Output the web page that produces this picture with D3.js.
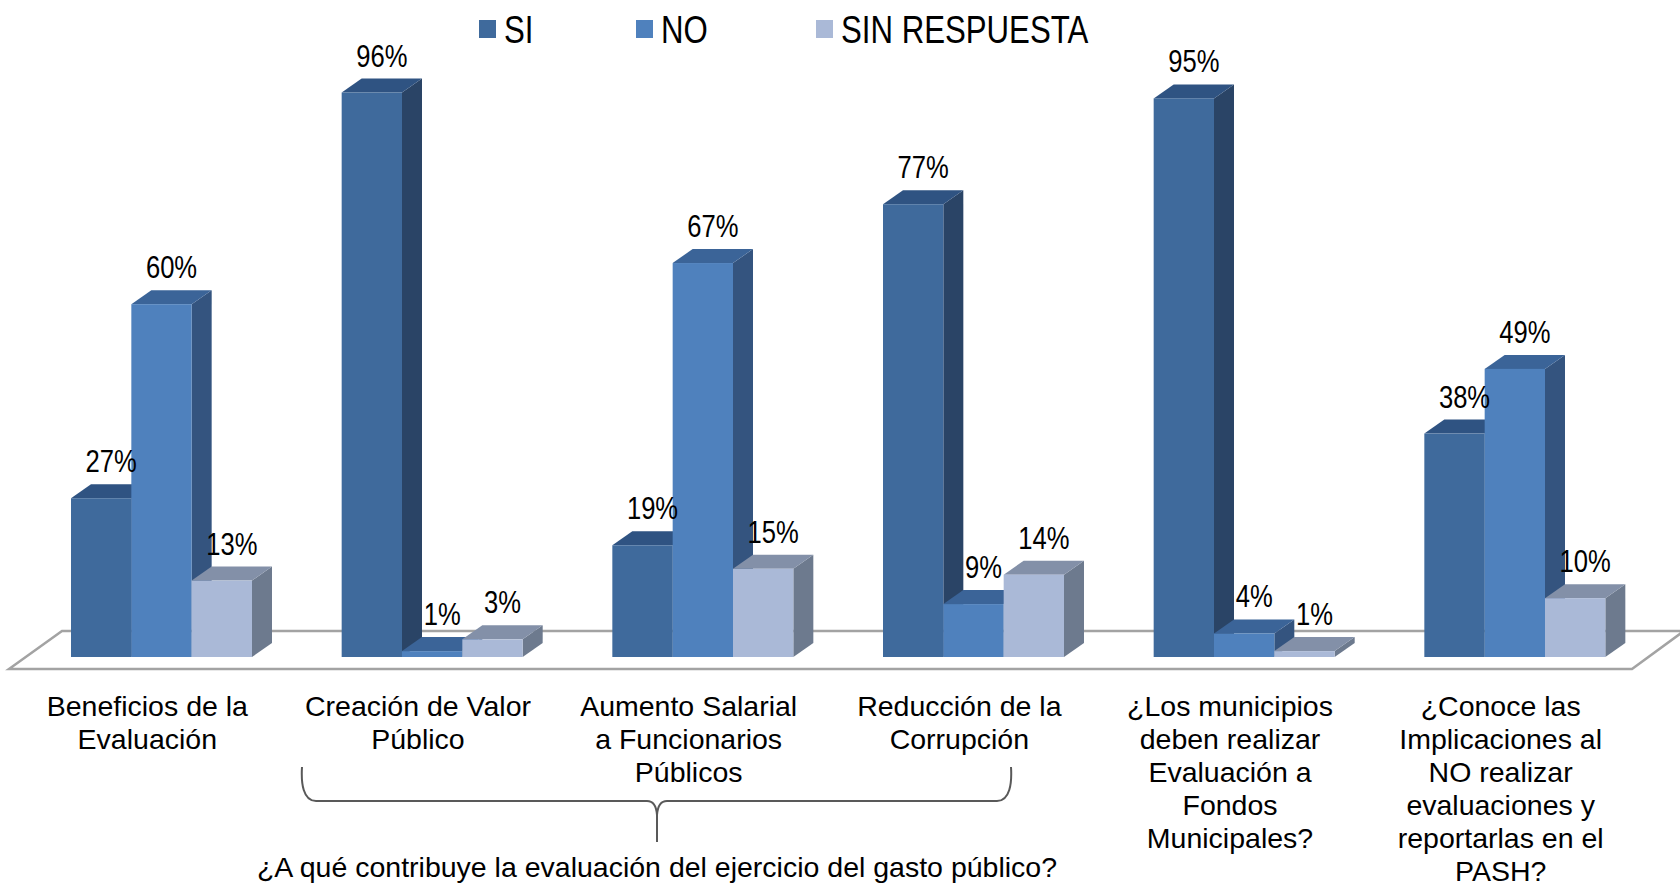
<!DOCTYPE html>
<html>
<head>
<meta charset="utf-8">
<script src="https://cdn.jsdelivr.net/npm/d3@7"></script>
<style>
  body { margin: 0; background: #fff; }
  svg { display: block; }
</style>
</head>
<body>
<div class="chart"></div>
<script>
var svgWidth = 1680;
var svgHeight = 887;

// Data
var categories = [
    ["Beneficios de la", "Evaluación"],
    ["Creación de Valor", "Público"],
    ["Aumento Salarial", "a Funcionarios", "Públicos"],
    ["Reducción de la", "Corrupción"],
    ["¿Los municipios", "deben realizar", "Evaluación a", "Fondos", "Municipales?"],
    ["¿Conoce las", "Implicaciones al", "NO realizar", "evaluaciones y", "reportarlas en el", "PASH?"]
];
var seriesNames = ["SI", "NO", "SIN RESPUESTA"];
var siValues = [27, 96, 19, 77, 95, 38];
var noValues = [60, 1, 67, 9, 4, 49];
var srValues = [13, 3, 15, 14, 1, 10];
var groupTitle = "¿A qué contribuye la evaluación del ejercicio del gasto público?";

var values = [siValues, noValues, srValues];

// colours: front, top, side
var colors = [
    {front: "#3f6a9c", top: "#2f5382", side: "#2a4466"},
    {front: "#4f81bd", top: "#3b6498", side: "#34547f"},
    {front: "#aab9d7", top: "#8390a8", side: "#6d7a8e"}
];

var depthX = 20, depthY = 14;
var narrowFont = "'Liberation Sans', Arial, sans-serif";

var svg = d3.select(".chart")
    .append("svg")
    .attr("width", svgWidth)
    .attr("height", svgHeight);

// Scales
var xCat = d3.scaleBand()
    .domain(d3.range(categories.length))
    .range([12, 1636]);

var xSeries = d3.scaleBand()
    .domain(d3.range(seriesNames.length))
    .range([59, 240]);

var yScale = d3.scaleLinear()
    .domain([0, 100])
    .range([657, 69]);

// Floor
var floorFront = 669, floorBack = 631;
svg.append("path")
    .attr("d", `M9,${floorFront} L62,${floorBack} L1684,${floorBack} L1632,${floorFront} Z`)
    .attr("fill", "#fff")
    .attr("stroke", "#a3a3a3")
    .attr("stroke-width", 2.5);

// Bars
var barsGroup = svg.append("g");
categories.forEach(function(cat, i) {
    values.forEach(function(vals, j) {
        var x0 = xCat(i) + xSeries(j);
        var w = xSeries.bandwidth();
        var y0 = yScale(0);
        var y1 = yScale(vals[i]);
        var c = colors[j];
        var g = barsGroup.append("g");
        // side
        g.append("path")
            .attr("d", `M${x0 + w},${y0} L${x0 + w + depthX},${y0 - depthY} L${x0 + w + depthX},${y1 - depthY} L${x0 + w},${y1} Z`)
            .attr("fill", c.side);
        // top
        g.append("path")
            .attr("d", `M${x0},${y1} L${x0 + depthX},${y1 - depthY} L${x0 + w + depthX},${y1 - depthY} L${x0 + w},${y1} Z`)
            .attr("fill", c.top);
        // front
        g.append("rect")
            .attr("x", x0)
            .attr("y", y1)
            .attr("width", w)
            .attr("height", y0 - y1)
            .attr("fill", c.front);
    });
});

// Value labels (condensed look by squeezing horizontally)
categories.forEach(function(cat, i) {
    values.forEach(function(vals, j) {
        var x0 = xCat(i) + xSeries(j);
        var lx = x0 + xSeries.bandwidth() / 2 + depthX / 2;
        var ly = yScale(vals[i]) - depthY - 12;
        svg.append("text")
            .attr("transform", `translate(${lx},${ly}) scale(0.8,1)`)
            .attr("text-anchor", "middle")
            .style("font-family", narrowFont)
            .style("font-size", "32px")
            .attr("fill", "#000")
            .text(vals[i] + "%");
    });
});

// Category labels
categories.forEach(function(cat, i) {
    var t = svg.append("text")
        .attr("text-anchor", "middle")
        .style("font-family", "'Liberation Sans', Arial, sans-serif")
        .style("font-size", "28.5px")
        .attr("fill", "#000");
    cat.forEach(function(line, k) {
        t.append("tspan")
            .attr("x", xCat(i) + xCat.bandwidth() / 2)
            .attr("y", 716 + k * 33)
            .text(line);
    });
});

// Brace for the first four categories
var bl = 302, br = 1011, bm = (bl + br) / 2 + 0.5, bTop = 767, bMid = 801, bTip = 842;
svg.append("path")
    .attr("d", `M${bl},${bTop} C${bl - 1},${bMid - 18} ${bl + 1},${bMid} ${bl + 14},${bMid}
                L${bm - 10},${bMid} Q${bm - 1},${bMid} ${bm},${bMid + 14} L${bm},${bTip}
                M${bm},${bMid + 14} Q${bm + 1},${bMid} ${bm + 10},${bMid}
                L${br - 14},${bMid} C${br - 1},${bMid} ${br + 1},${bMid - 18} ${br},${bTop}`)
    .attr("fill", "none")
    .attr("stroke", "#595959")
    .attr("stroke-width", 2);

svg.append("text")
    .attr("x", bm)
    .attr("y", 877)
    .attr("text-anchor", "middle")
    .style("font-family", "'Liberation Sans', Arial, sans-serif")
    .style("font-size", "28.5px")
    .attr("fill", "#000")
    .text(groupTitle);

// Legend
var legendX = [479, 636, 816];
var legend = svg.append("g");
seriesNames.forEach(function(name, j) {
    legend.append("rect")
        .attr("x", legendX[j])
        .attr("y", 20)
        .attr("width", 17)
        .attr("height", 18)
        .attr("fill", colors[j].front);
    legend.append("text")
        .attr("transform", `translate(${legendX[j] + 25},43) scale(0.8,1)`)
        .style("font-family", narrowFont)
        .style("font-size", "39px")
        .attr("fill", "#000")
        .text(name);
});
</script>
</body>
</html>
